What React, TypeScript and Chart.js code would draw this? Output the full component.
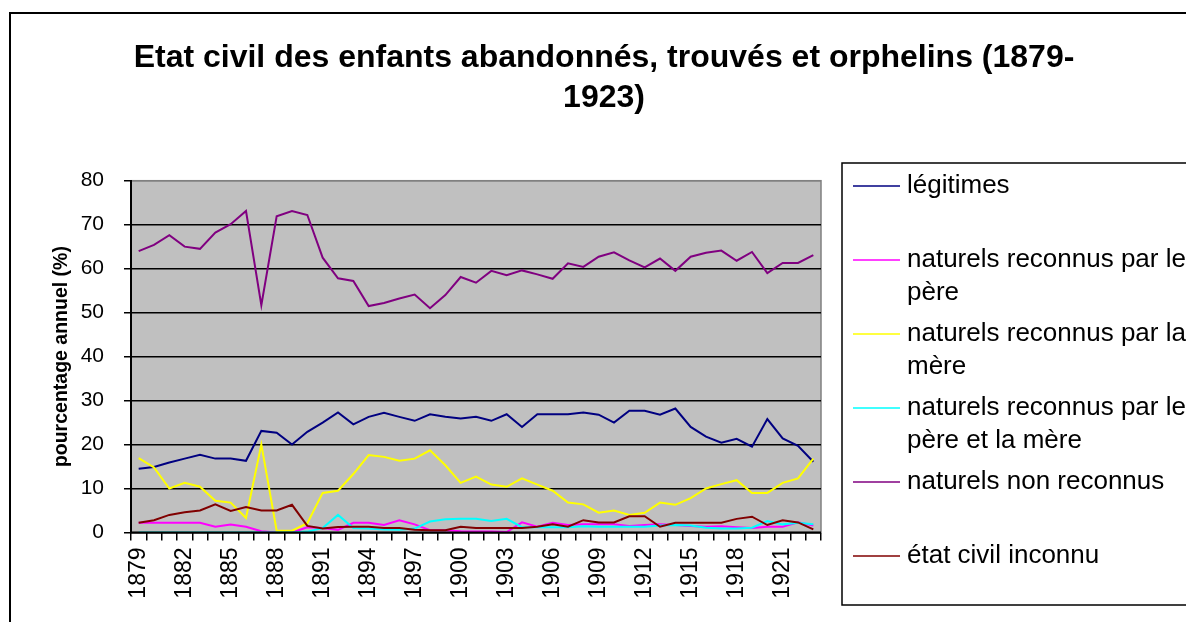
import React, { useEffect, useRef } from 'react';
import { Chart, registerables } from 'chart.js';

Chart.register(...registerables);

const FONT = '"Liberation Sans", Arial, Helvetica, sans-serif';

const years = [
  '1879', '1880', '1881', '1882', '1883', '1884', '1885', '1886', '1887', '1888',
  '1889', '1890', '1891', '1892', '1893', '1894', '1895', '1896', '1897', '1898',
  '1899', '1900', '1901', '1902', '1903', '1904', '1905', '1906', '1907', '1908',
  '1909', '1910', '1911', '1912', '1913', '1914', '1915', '1916', '1917', '1918',
  '1919', '1920', '1921', '1922', '1923',
];

const legitimes = [
  14.5, 14.9, 15.9, 16.8, 17.7, 16.8, 16.8, 16.3, 23.1, 22.7,
  20.0, 22.9, 25.0, 27.3, 24.6, 26.3, 27.2, 26.3, 25.4, 26.9,
  26.3, 25.9, 26.3, 25.4, 26.9, 24.0, 26.9, 26.9, 26.9, 27.3,
  26.8, 25.0, 27.7, 27.7, 26.8, 28.2, 24.0, 21.8, 20.4, 21.3,
  19.5, 25.8, 21.4, 19.7, 16.1,
];

const reconnusPere = [
  2.2, 2.2, 2.2, 2.2, 2.2, 1.3, 1.8, 1.3, 0.3, 0.0,
  0.0, 1.2, 1.0, 0.6, 2.2, 2.2, 1.7, 2.8, 1.85, 0.5,
  0.5, 0.3, 0.2, 0.2, 0.1, 2.3, 1.3, 2.2, 1.7, 1.85,
  1.85, 1.85, 1.5, 1.7, 1.85, 1.7, 1.5, 1.3, 1.4, 1.2,
  1.0, 1.3, 1.3, 2.3, 1.6,
];

const reconnusMere = [
  16.9, 14.8, 10.0, 11.3, 10.4, 7.2, 6.8, 3.3, 20.0, 0.4,
  0.4, 2.1, 9.0, 9.5, 13.3, 17.6, 17.2, 16.3, 16.8, 18.7,
  15.3, 11.3, 12.7, 10.9, 10.4, 12.3, 10.9, 9.5, 6.8, 6.4,
  4.5, 5.0, 4.0, 4.5, 6.8, 6.3, 7.8, 10.0, 11.0, 11.9,
  9.0, 9.0, 11.3, 12.3, 16.8,
];

const reconnusPereMere = [
  0.0, 0.0, 0.0, 0.0, 0.0, 0.0, 0.0, 0.0, 0.0, 0.0,
  0.0, 0.2, 1.0, 4.0, 1.0, 0.9, 0.7, 0.6, 0.9, 2.5,
  3.0, 3.1, 3.1, 2.6, 3.1, 1.2, 1.2, 1.2, 1.2, 1.4,
  1.3, 1.3, 1.3, 1.3, 1.6, 1.7, 1.6, 1.1, 0.9, 0.9,
  1.1, 2.6, 1.85, 2.2, 1.85,
];

const nonReconnus = [
  64.0, 65.4, 67.6, 65.0, 64.5, 68.2, 70.1, 73.1, 51.7, 71.9,
  73.1, 72.2, 62.5, 57.8, 57.2, 51.5, 52.2, 53.2, 54.1, 51.0,
  54.0, 58.1, 56.8, 59.5, 58.5, 59.6, 58.7, 57.7, 61.2, 60.4,
  62.7, 63.7, 61.9, 60.3, 62.3, 59.5, 62.7, 63.6, 64.1, 61.8,
  63.8, 59.0, 61.3, 61.3, 63.1,
];

const inconnu = [
  2.2, 2.8, 4.0, 4.6, 5.0, 6.4, 4.9, 5.8, 5.0, 5.0,
  6.3, 1.5, 0.9, 1.25, 1.3, 1.3, 1.0, 1.0, 0.6, 0.5,
  0.5, 1.3, 1.0, 1.0, 1.0, 1.0, 1.3, 1.85, 1.3, 2.8,
  2.3, 2.3, 3.7, 3.7, 1.3, 2.2, 2.2, 2.2, 2.2, 3.1,
  3.6, 1.7, 2.8, 2.3, 0.7,
];

const seriesNames = [
  'légitimes',
  'naturels reconnus par le père',
  'naturels reconnus par la mère',
  'naturels reconnus par le père et la mère',
  'naturels non reconnus',
  'état civil inconnu',
];
const seriesValues = [legitimes, reconnusPere, reconnusMere, reconnusPereMere, nonReconnus, inconnu];
const seriesColors = ['#000080', '#FF00FF', '#FFFF00', '#00FFFF', '#800080', '#800000'];

const titleLines = ['Etat civil des enfants abandonnés, trouvés et orphelins (1879-', '1923)'];
const yAxisTitle = 'pourcentage annuel (%)';
const yMin = 0;
const yMax = 80;
const yStep = 10;
const xLabelEvery = 3;

const W = 1186;
const H = 622;
const PLOT_LEFT = 131;
const PLOT_TOP = 180.7;
const PLOT_RIGHT = 821;
const PLOT_BOTTOM = 532.5;
const Y_TITLE_X = 62;

function wrapText(ctx: CanvasRenderingContext2D, text: string, maxW: number): string[] {
  const words = text.split(' ');
  const lines: string[] = [];
  let cur = '';
  for (const w of words) {
    const test = cur ? cur + ' ' + w : w;
    if (ctx.measureText(test).width > maxW && cur) {
      lines.push(cur);
      cur = w;
    } else {
      cur = test;
    }
  }
  if (cur) lines.push(cur);
  return lines;
}

const decorPlugin = {
  id: 'decor',
  beforeDraw(chart: any) {
    const { ctx, chartArea: a } = chart;
    ctx.save();
    ctx.fillStyle = '#ffffff';
    ctx.fillRect(0, 0, chart.width, chart.height);
    ctx.strokeStyle = '#000000';
    ctx.lineWidth = 2;
    ctx.strokeRect(10, 13, 1250, 700);
    ctx.fillStyle = '#C0C0C0';
    ctx.fillRect(a.left, a.top, a.right - a.left, a.bottom - a.top);
    ctx.strokeStyle = '#808080';
    ctx.lineWidth = 1.5;
    ctx.strokeRect(a.left, a.top, a.right - a.left, a.bottom - a.top);
    ctx.fillStyle = '#000000';
    ctx.font = `bold 32px ${FONT}`;
    ctx.textAlign = 'center';
    ctx.textBaseline = 'middle';
    titleLines.forEach((t, i) => ctx.fillText(t, 604, 58 + i * 40));
    ctx.restore();
  },
  afterDatasetsDraw(chart: any) {
    const { ctx, chartArea: a } = chart;
    ctx.save();
    ctx.strokeStyle = '#000000';
    ctx.lineWidth = 2;
    ctx.beginPath();
    ctx.moveTo(a.left - 1, a.bottom);
    ctx.lineTo(a.right, a.bottom);
    ctx.stroke();
    ctx.restore();
  },
  afterDraw(chart: any) {
    const { ctx } = chart;
    ctx.save();
    ctx.strokeStyle = '#000000';
    ctx.lineWidth = 1.5;
    ctx.strokeRect(842, 163, 400, 442);
    ctx.font = `26px ${FONT}`;
    ctx.textAlign = 'left';
    ctx.textBaseline = 'middle';
    ctx.fillStyle = '#000000';
    seriesNames.forEach((name, i) => {
      const y = 186 + i * 74;
      ctx.strokeStyle = seriesColors[i];
      ctx.lineWidth = 1.5;
      ctx.beginPath();
      ctx.moveTo(853, y);
      ctx.lineTo(900, y);
      ctx.stroke();
      const lines = wrapText(ctx, name, 285);
      lines.forEach((ln, j) => ctx.fillText(ln, 907, y + j * 32.5));
    });
    ctx.restore();
  },
};

export default function App() {
  const ref = useRef<HTMLCanvasElement | null>(null);

  useEffect(() => {
    if (!ref.current) return;
    const n = seriesValues.length;
    const chart = new Chart(ref.current, {
      type: 'line',
      data: {
        labels: years,
        datasets: seriesValues.map((vals, i) => ({
          label: seriesNames[i],
          data: vals,
          borderColor: seriesColors[i],
          backgroundColor: seriesColors[i],
          borderWidth: 2,
          pointRadius: 0,
          pointHoverRadius: 0,
          tension: 0,
          fill: false,
          clip: 0,
          order: n - 1 - i,
        })),
      },
      options: {
        responsive: false,
        animation: false,
        events: [],
        layout: {
          padding: { left: Y_TITLE_X - 11.7, right: W - PLOT_RIGHT, top: PLOT_TOP, bottom: 0 },
        },
        plugins: {
          legend: { display: false },
          title: { display: false },
          tooltip: { enabled: false },
        },
        scales: {
          x: {
            type: 'category',
            offset: true,
            grid: {
              display: true,
              offset: true,
              drawOnChartArea: false,
              drawTicks: true,
              tickLength: 8,
              color: '#000000',
              lineWidth: 1.5,
            },
            border: { display: false },
            ticks: {
              autoSkip: false,
              maxRotation: 90,
              minRotation: 90,
              padding: 7,
              color: '#000000',
              font: { family: FONT, size: 23 },
              callback: (_v: any, idx: number) => (idx % xLabelEvery === 0 ? years[idx] : ''),
            },
            afterFit: (scale: any) => {
              scale.height = H - PLOT_BOTTOM;
            },
          },
          y: {
            min: yMin,
            max: yMax,
            grid: {
              color: (c: any) => (c.tick && c.tick.value === yMax ? '#808080' : '#000000'),
              tickColor: '#000000',
              lineWidth: 1.5,
              drawTicks: true,
              tickLength: 7,
            },
            border: { display: true, color: '#000000', width: 2 },
            ticks: {
              stepSize: yStep,
              padding: 20,
              color: '#000000',
              font: { family: FONT, size: 21 },
            },
            title: {
              display: true,
              text: yAxisTitle,
              color: '#000000',
              font: { family: FONT, size: 19.5, weight: 'bold' },
              padding: { top: 0, bottom: 0 },
            },
            afterFit: (scale: any) => {
              scale.width = PLOT_LEFT - (Y_TITLE_X - 11.7);
            },
          },
        },
      },
      plugins: [decorPlugin],
    } as any);
    return () => chart.destroy();
  }, []);

  return (
    <div style={{ position: 'fixed', left: 0, top: 0, width: W, height: H, background: '#fff' }}>
      <canvas ref={ref} width={W} height={H} style={{ display: 'block' }} />
    </div>
  );
}
